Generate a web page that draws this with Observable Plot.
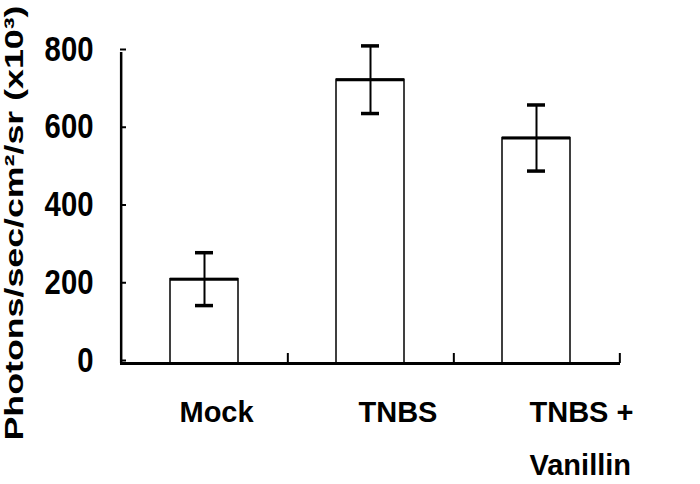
<!DOCTYPE html>
<html>
<head>
<meta charset="utf-8">
<script src="https://cdn.jsdelivr.net/npm/d3@7"></script>
<script src="https://cdn.jsdelivr.net/npm/@observablehq/plot@0.6"></script>
<style>
  html, body { margin: 0; padding: 0; background: white; }
  #chart svg { display: block; }
</style>
</head>
<body>
<div id="chart"></div>
<script>
const categories = ["Mock", "TNBS", "TNBS + Vanillin"];
const means = [217, 730, 580];
const errors = [68, 87, 85];
const yTicks = [0, 200, 400, 600, 800];
const yLabel = "Photons/sec/cm²/sr (x10³)";
const catLabels = ["Mock", "TNBS", "TNBS +\nVanillin"];

const W = 700, H = 484, mL = 120, mR = 80, mT = 52, mB = 121;
const step = (W - mL - mR) / categories.length;
const data = categories.map((c, i) => ({cat: c, mean: means[i], err: errors[i], label: catLabels[i]}));

const labelMark = (i, dx) => Plot.text([data[i]], {
  x: "cat", text: "label", frameAnchor: "bottom", dy: 21, dx,
  textAnchor: "start", lineAnchor: "top", lineHeight: 1.83,
  fontSize: 29, fontWeight: "bold", fontFamily: "Liberation Sans, Arial, sans-serif", fill: "black"
});

const chart = Plot.plot({
  width: W, height: H,
  marginLeft: mL, marginRight: mR, marginTop: mT, marginBottom: mB,
  style: {background: "white", color: "black", fontFamily: "Liberation Sans, Arial, sans-serif"},
  x: {domain: categories, paddingInner: 0.59, paddingOuter: 0.295, axis: null},
  y: {domain: [0, 800], axis: null},
  marks: [
    Plot.barY(data, {x: "cat", y: "mean", fill: "white", stroke: "black", strokeWidth: 1.5}),
    Plot.tickY(data, {x: "cat", y: "mean", stroke: "black", strokeWidth: 3}),
    Plot.ruleX(data, {x: "cat", y1: d => d.mean - d.err, y2: d => d.mean + d.err, stroke: "black", strokeWidth: 2}),
    Plot.tickY(data, {x: "cat", y: d => d.mean + d.err, stroke: "black", strokeWidth: 3.5, insetLeft: 25, insetRight: 25}),
    Plot.tickY(data, {x: "cat", y: d => d.mean - d.err, stroke: "black", strokeWidth: 3.5, insetLeft: 25, insetRight: 25}),
    Plot.axisY({ticks: yTicks, tickSize: -6, tickPadding: 33, label: null, strokeWidth: 2,
      fontSize: 35, fontWeight: "bold", fontFamily: "Liberation Sans, Arial, sans-serif", dy: -3}),
    Plot.ruleX([categories[0]], {x: d => d, dx: -step / 2, stroke: "black", strokeWidth: 2.5}),
    Plot.ruleY([0], {stroke: "black", strokeWidth: 3}),
    Plot.ruleX(categories, {x: d => d, dx: step / 2, insetTop: (H - mT - mB) - 10, stroke: "black", strokeWidth: 2}),
    labelMark(0, -25),
    labelMark(1, -12),
    labelMark(2, -7),
    Plot.text([yLabel], {frameAnchor: "left", rotate: -90, dx: -106, dy: 15,
      textAnchor: "middle", lineAnchor: "middle", fontSize: 25, fontWeight: "bold",
      fontFamily: "Liberation Sans, Arial, sans-serif", fill: "black"})
  ]
});

document.getElementById("chart").appendChild(chart);
// the reference glyphs are condensed: squeeze tick numerals, stretch the rotated title
const tickText = new Set(yTicks.map(String));
chart.querySelectorAll("text").forEach(t => {
  const s = t.textContent;
  if (s === yLabel) {
    t.setAttribute("textLength", 435);
    t.setAttribute("lengthAdjust", "spacingAndGlyphs");
  } else if (tickText.has(s)) {
    t.setAttribute("textLength", 16.3 * s.length);
    t.setAttribute("lengthAdjust", "spacingAndGlyphs");
  }
});
</script>
</body>
</html>
